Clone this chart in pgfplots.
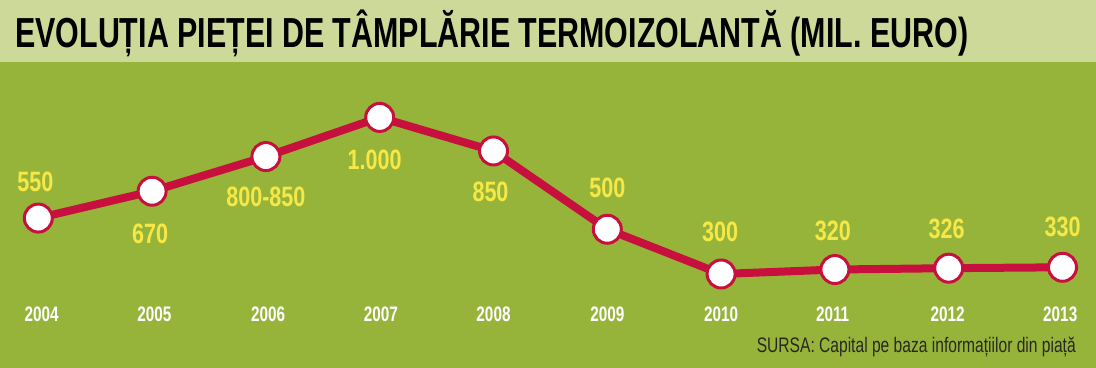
\documentclass[border=0pt]{standalone}
\usepackage{fontspec}
\setmainfont{Liberation Sans}
\newfontfamily\condnum[FakeStretch=0.77]{Liberation Sans}
\newfontfamily\condyear[FakeStretch=0.73]{Liberation Sans}
\usepackage{pgfplots}
\usepackage{pgfplotstable}
\pgfplotsset{compat=1.18}
\definecolor{band}{RGB}{204,217,152}
\definecolor{bggreen}{RGB}{151,180,58}
\definecolor{linered}{RGB}{200,16,62}
\definecolor{labyellow}{RGB}{246,232,70}
\definecolor{srcgray}{RGB}{40,40,35}
\pgfplotstableread{
x y lab dy dx
0 550 550 36 -3
1 670 670 -43 -2
2 825 800-850 -40 0
3 1000 1.000 -42 -5
4 850 850 -41 -3
5 500 500 41 0
6 300 300 42 -1
7 320 320 38.5 -2
8 326 326 39 -2
9 330 330 40 0
}\datatab
\begin{document}
\begin{tikzpicture}
\fill[bggreen] (0,0) rectangle (1096bp,368bp);
\fill[band] (0,306bp) rectangle (1096bp,368bp);
\node[anchor=base west, inner sep=0pt, text=black] at (15bp,320bp)
  {\resizebox{953bp}{\height}{\fontsize{42bp}{44bp}\selectfont\bfseries EVOLUȚIA PIEȚEI DE TÂMPLĂRIE TERMOIZOLANTĂ (MIL. EURO)}};
\begin{axis}[
  at={(0,0)}, anchor=south west,
  scale only axis, width=1096bp, height=368bp,
  xmin=-0.3366, xmax=9.2944, ymin=-120.2, ymax=1524.9,
  axis line style={draw=none}, tick style={draw=none},
  ytick=\empty,
  xtick={0.03,1.02,2.02,3.01,4.0,5.0,6.0,6.98,7.99,8.98},
  xticklabels={2004,2005,2006,2007,2008,2009,2010,2011,2012,2013},
  xticklabel style={anchor=base, yshift=46bp, text=white, font=\fontsize{21bp}{22bp}\selectfont\condyear\bfseries},
  clip=false,
]
\addplot[color=linered, line width=8bp, mark=*, mark size=14bp,
  mark options={fill=white, draw=linered, line width=3bp},
  point meta=explicit symbolic,
  visualization depends on={\thisrow{dy}\as\dy},
  visualization depends on={\thisrow{dx}\as\dx},
  nodes near coords,
  every node near coord/.style={anchor=center, yshift=\dy bp, xshift=\dx bp, text=labyellow, inner sep=0pt,
    font=\fontsize{28bp}{30bp}\selectfont\condnum\bfseries},
] table[x=x, y=y, meta=lab] {\datatab};
\end{axis}
\node[anchor=base east, inner sep=0pt, text=srcgray] at (1076bp,15bp)
  {\resizebox{319bp}{\height}{\fontsize{21bp}{22bp}\selectfont SURSA: Capital pe baza informațiilor din piață}};
\end{tikzpicture}
\end{document}
